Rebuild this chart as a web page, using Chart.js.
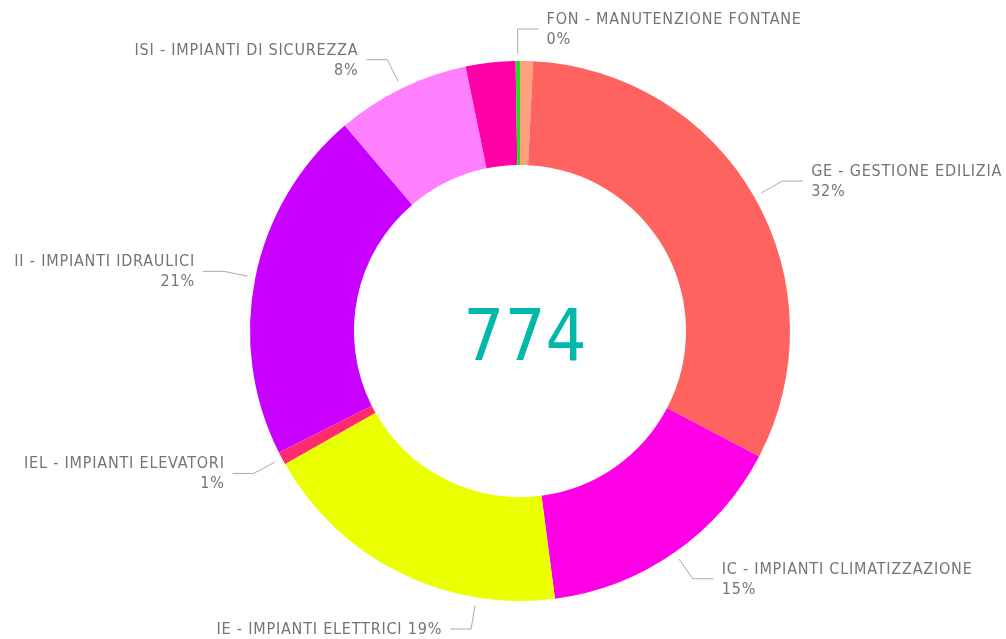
<!DOCTYPE html>
<html>
<head>
<meta charset="utf-8">
<script src="https://cdn.jsdelivr.net/npm/chart.js@4"></script>
<style>
 html, body { margin: 0; padding: 0; background: #fff; }
 #wrap { width: 1006px; height: 639px; position: relative; }
</style>
</head>
<body>
<div id="wrap"><canvas id="categoryChart"></canvas></div>
<script>
// slices, clockwise from 12 o'clock
var categories = [
 "",
 "GE - GESTIONE EDILIZIA",
 "IC - IMPIANTI CLIMATIZZAZIONE",
 "IE - IMPIANTI ELETTRICI",
 "IEL - IMPIANTI ELEVATORI",
 "II - IMPIANTI IDRAULICI",
 "ISI - IMPIANTI DI SICUREZZA",
 "",
 "FON - MANUTENZIONE FONTANE",
];
var ticketCounts = [6, 247, 118, 146, 6, 164, 62, 23, 2];

var sliceColors = [
 "#FFA07E", // salmon
 "#FF6360", // red
 "#FF00E6", // magenta
 "#EAFF00", // yellow
 "#FF2A6E", // pink red
 "#C800FF", // purple
 "#FF80FF", // light violet
 "#FF00A8", // hot pink
 "#22DD22", // green
];

// label placement tweaks (angle shift in degrees, one line or two)
var labelLayout = {
 3: { shift: -17.2, oneLine: true },
};

var labelFont = '16px "Liberation Sans Narrow", "DejaVu Sans Condensed", sans-serif';
var centerFont = '72px "Liberation Sans Narrow", "DejaVu Sans Condensed", sans-serif';

var total = ticketCounts.reduce(function (a, b) {
 return a + b;
}, 0);

var calloutPlugin = {
 id: "callouts",
 afterDraw: function (chart) {
  var ctx = chart.ctx;
  var meta = chart.getDatasetMeta(0);

  ctx.save();
  ctx.font = labelFont;
  if ("letterSpacing" in ctx) ctx.letterSpacing = "0.8px";
  ctx.fillStyle = "#747474";
  ctx.strokeStyle = "#AAAAAA";
  ctx.lineWidth = 1;

  meta.data.forEach(function (arc, i) {
   if (!categories[i]) return;
   var layout = labelLayout[i] || {};
   var mid = (arc.startAngle + arc.endAngle) / 2;
   mid += ((layout.shift || 0) * Math.PI) / 180;
   var r0 = arc.outerRadius + 8;
   var r1 = arc.outerRadius + 32;
   var sx = arc.x + r0 * Math.cos(mid);
   var sy = arc.y + r0 * Math.sin(mid);
   var ex = arc.x + r1 * Math.cos(mid);
   var ey = arc.y + r1 * Math.sin(mid);
   var right = Math.cos(mid) > -0.02;
   var dir = right ? 1 : -1;
   var hx = ex + dir * 21;

   ctx.beginPath();
   ctx.moveTo(sx, sy);
   ctx.lineTo(ex, ey);
   ctx.lineTo(hx, ey);
   ctx.stroke();

   var pct = Math.round((ticketCounts[i] / total) * 100) + "%";
   var tx = hx + dir * 8;
   ctx.textAlign = right ? "left" : "right";
   ctx.textBaseline = "alphabetic";
   if (layout.oneLine) {
    ctx.fillText(categories[i] + " " + pct, tx, ey + 5);
   } else {
    ctx.fillText(categories[i], tx, ey - 5);
    ctx.fillText(pct, tx, ey + 15);
   }
  });

  // total in the middle
  var c = meta.data[0];
  ctx.font = centerFont;
  ctx.fillStyle = "#01B8AA";
  ctx.textAlign = "center";
  ctx.textBaseline = "alphabetic";
  if ("letterSpacing" in ctx) ctx.letterSpacing = "0px";
  ctx.fillText(String(total), c.x + 5, c.y + 29);
  ctx.restore();
 },
};

new Chart(document.getElementById("categoryChart"), {
 type: "doughnut",
 data: {
  labels: categories,
  datasets: [
   {
    data: ticketCounts,
    backgroundColor: sliceColors,
    borderWidth: 0,
   },
  ],
 },
 options: {
  responsive: true,
  maintainAspectRatio: false,
  animation: false,
  cutout: "61.5%",
  layout: {
   padding: { top: 61, bottom: 38, left: 100, right: 66 },
  },
  plugins: {
   legend: { display: false },
   tooltip: { enabled: false },
  },
 },
 plugins: [calloutPlugin],
});
</script>
</body>
</html>
